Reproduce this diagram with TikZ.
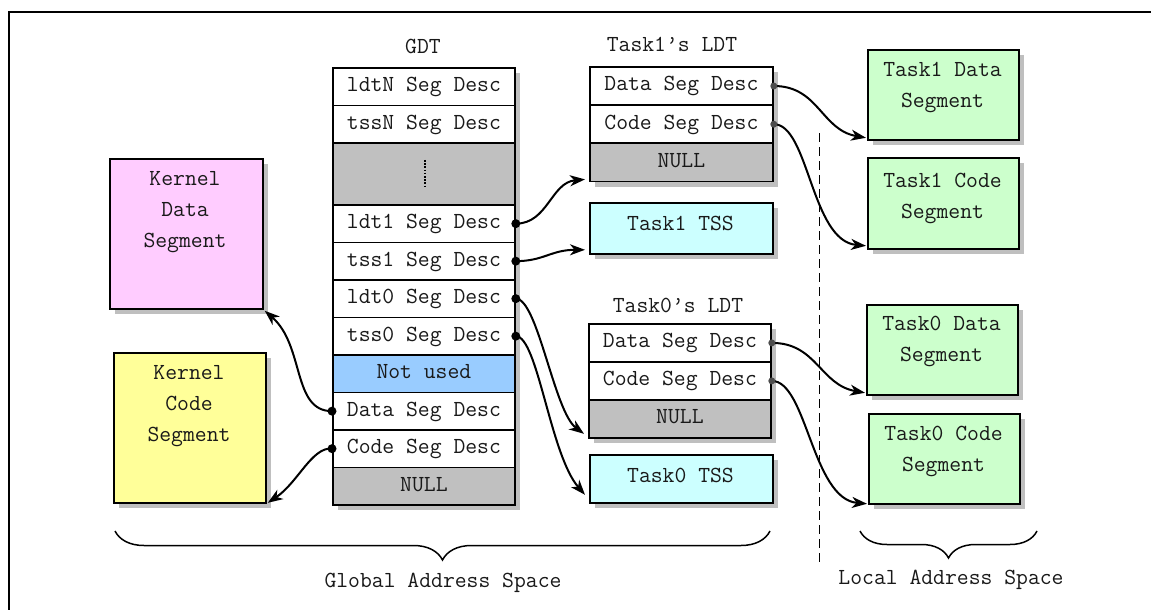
\documentclass[tikz,border=0pt]{standalone}
\usepackage{fontspec}
\usetikzlibrary{arrows.meta,decorations.pathreplacing,calc}
\definecolor{shadowgray}{HTML}{BFBFBF}
\definecolor{nullgray}{HTML}{C0C0C0}
\definecolor{notused}{HTML}{99CCFF}
\definecolor{kdata}{HTML}{FFCCFF}
\definecolor{kcode}{HTML}{FFFF99}
\definecolor{tssc}{HTML}{CCFFFF}
\definecolor{segc}{HTML}{CCFFCC}
\newcommand\shadowrect[4]{\fill[shadowgray] (#1+6,#2+6) rectangle (#3+6,#4+6);}
\begin{document}
\begin{tikzpicture}[x=1pt,y=-1pt,
  every node/.style={font=\ttfamily\fontsize{23}{31}\selectfont,text=black!90},
  cell/.style={draw,line width=1.8pt,anchor=north west,inner sep=0pt,text height=14pt,text depth=4pt},
  boxx/.style={draw,line width=1.8pt,anchor=north west,inner sep=0pt},
  txt/.style={inner sep=0pt,align=center},
  conn/.style={line width=2pt,-{Stealth[length=15pt,width=11pt,inset=4.5pt]}},
  dotb/.style={fill=black},
  dotg/.style={fill=black!70},
  brc/.style={line width=1.5pt,decorate},
]
\useasboundingbox (0,0) rectangle (1151,610);
% frame
\draw[line width=2.6pt] (9,610) -- (9,12) -- (1151,12);

% shadows
\shadowrect{332}{67}{514}{504}
\shadowrect{589}{66}{772}{180.6}
\shadowrect{589}{202}{772}{253}
\shadowrect{588}{323}{770}{437}
\shadowrect{589}{454}{772}{502}
\shadowrect{109}{158}{262}{308}
\shadowrect{113}{352}{265}{502}
\shadowrect{867}{49}{1018}{139}
\shadowrect{867}{157}{1018}{248}
\shadowrect{866}{304}{1017}{394}
\shadowrect{868}{413}{1019}{503}

% GDT
\node[txt,anchor=base] (gdtlbl) at (423,54) {GDT};
\node[cell,fill=white,minimum width=182pt,minimum height=37.5pt] (g1) at (332,67) {ldtN Seg Desc};
\node[cell,fill=white,minimum width=182pt,minimum height=37.5pt] (g2) at (332,104.5) {tssN Seg Desc};
\node[cell,fill=nullgray,minimum width=182pt,minimum height=62pt] (g3) at (332,142) {};
\node[cell,fill=white,minimum width=182pt,minimum height=37.5pt] (g4) at (332,204) {ldt1 Seg Desc};
\node[cell,fill=white,minimum width=182pt,minimum height=37.5pt] (g5) at (332,241.5) {tss1 Seg Desc};
\node[cell,fill=white,minimum width=182pt,minimum height=37.5pt] (g6) at (332,279) {ldt0 Seg Desc};
\node[cell,fill=white,minimum width=182pt,minimum height=37.5pt] (g7) at (332,316.5) {tss0 Seg Desc};
\node[cell,fill=notused,minimum width=182pt,minimum height=37.5pt] (g8) at (332,354) {Not used};
\node[cell,fill=white,minimum width=182pt,minimum height=37.5pt] (g9) at (332,391.5) {Data Seg Desc};
\node[cell,fill=white,minimum width=182pt,minimum height=37.5pt] (g10) at (332,429) {Code Seg Desc};
\node[cell,fill=nullgray,minimum width=182pt,minimum height=37.5pt] (g11) at (332,466.5) {NULL};
\draw[line width=2.4pt,dash pattern=on 1.6pt off 1.6pt] ($(g3.center)+(1,-14)$) -- ($(g3.center)+(1,14)$);

% Task1 LDT
\node[txt,anchor=base] (t1lbl) at (672,52) {Task1’s LDT};
\node[cell,fill=white,minimum width=183pt,minimum height=38.2pt] (t1d) at (589,66) {Data Seg Desc};
\node[cell,fill=white,minimum width=183pt,minimum height=38.2pt] (t1c) at (589,104.2) {Code Seg Desc};
\node[cell,fill=nullgray,minimum width=183pt,minimum height=38.2pt] (t1n) at (589,142.4) {NULL};
\node[boxx,fill=tssc,minimum width=183pt,minimum height=51pt] (t1tss) at (589,202) {};
\node[txt] (t1tsst) at (680.5,223) {Task1 TSS};

% Task0 LDT
\node[txt,anchor=base] (t0lbl) at (678,312) {Task0’s LDT};
\node[cell,fill=white,minimum width=182pt,minimum height=38pt] (t0d) at (588,323) {Data Seg Desc};
\node[cell,fill=white,minimum width=182pt,minimum height=38pt] (t0c) at (588,361) {Code Seg Desc};
\node[cell,fill=nullgray,minimum width=182pt,minimum height=38pt] (t0n) at (588,399) {NULL};
\node[boxx,fill=tssc,minimum width=183pt,minimum height=48pt] (t0tss) at (589,454) {};
\node[txt] (t0tsst) at (680.5,475) {Task0 TSS};

% Kernel segments
\node[boxx,fill=kdata,minimum width=153pt,minimum height=150pt] (kd) at (109,158) {};
\node[txt,anchor=north] (kdt) at (185,171) {Kernel\\Data\\Segment};
\node[boxx,fill=kcode,minimum width=152pt,minimum height=150pt] (kc) at (113,352) {};
\node[txt,anchor=north] (kct) at (189,365) {Kernel\\Code\\Segment};

% Task segments
\node[boxx,fill=segc,minimum width=151pt,minimum height=90pt] (t1ds) at (867,49) {};
\node[txt,anchor=north] (t1dst) at (942.5,62) {Task1 Data\\Segment};
\node[boxx,fill=segc,minimum width=151pt,minimum height=91pt] (t1cs) at (867,157) {};
\node[txt,anchor=north] (t1cst) at (942.5,173) {Task1 Code\\Segment};
\node[boxx,fill=segc,minimum width=151pt,minimum height=90pt] (t0ds) at (866,304) {};
\node[txt,anchor=north] (t0dst) at (941.5,316) {Task0 Data\\Segment};
\node[boxx,fill=segc,minimum width=151pt,minimum height=90pt] (t0cs) at (868,413) {};
\node[txt,anchor=north] (t0cst) at (943.5,426) {Task0 Code\\Segment};

% dashed separator
\coordinate (dtop) at (819,133);
\coordinate (dbot) at (819,563);
\draw[line width=1pt,dash pattern=on 9pt off 5pt] (dtop) -- (dbot);

% connectors from GDT
\draw[conn] (g4.east) .. controls +(32,0) and +(-34,3) .. ($(t1n.south west)+(-4,-3)$);
\draw[conn] (g5.east) .. controls +(28,0) and +(-34,0) .. ($(t1tss.south west)+(-4,-5)$);
\draw[conn] (g6.east) .. controls +(22,0) and +(-30,-22) .. ($(t0n.south west)+(-4,-5)$);
\draw[conn] (g7.east) .. controls +(22,0) and +(-35,-40) .. ($(t0tss.south west)+(-4,-9)$);
\draw[conn] (g9.west) .. controls +(-40,0) and +(40,35) .. ($(kd.south east)+(1,1)$);
\draw[conn] (g10.west) .. controls +(-20,-2) and +(30,-20) .. ($(kc.south east)+(1,-1)$);
\fill[dotb] (g4.east) circle (4.5);
\fill[dotb] (g5.east) circle (4.5);
\fill[dotb] (g6.east) circle (4.5);
\fill[dotb] (g7.east) circle (4.5);
\fill[dotb] (g9.west) circle (4.5);
\fill[dotb] (g10.west) circle (4.5);

% connectors from LDTs
\draw[conn] (t1d.east) .. controls +(45,0) and +(-45,-8) .. ($(t1ds.south west)+(-1,-3)$);
\draw[conn] (t1c.east) .. controls +(35,0) and +(-55,-5) .. ($(t1cs.south west)+(-1,-4)$);
\draw[conn] (t0d.east) .. controls +(45,0) and +(-45,-8) .. ($(t0ds.south west)+(-1,-3)$);
\draw[conn] (t0c.east) .. controls +(35,0) and +(-55,-5) .. ($(t0cs.south west)+(-1,-1)$);
\fill[dotg] (t1d.east) circle (3.5);
\fill[dotg] (t1c.east) circle (3.5);
\fill[dotg] (t0d.east) circle (3.5);
\fill[dotg] (t0c.east) circle (3.5);

% braces
\coordinate (gb1) at (115,531);
\coordinate (gb2) at (770,531);
\draw[brc,decoration={brace,mirror,amplitude=29pt}] (gb1) -- (gb2);
\node[txt,anchor=base] (glbl) at (443,587) {Global Address Space};
\coordinate (lb1) at (860,531);
\coordinate (lb2) at (1037,531);
\draw[brc,decoration={brace,mirror,amplitude=27pt}] (lb1) -- (lb2);
\node[txt,anchor=base] (llbl) at (951,584) {Local Address Space};
\end{tikzpicture}
\end{document}
